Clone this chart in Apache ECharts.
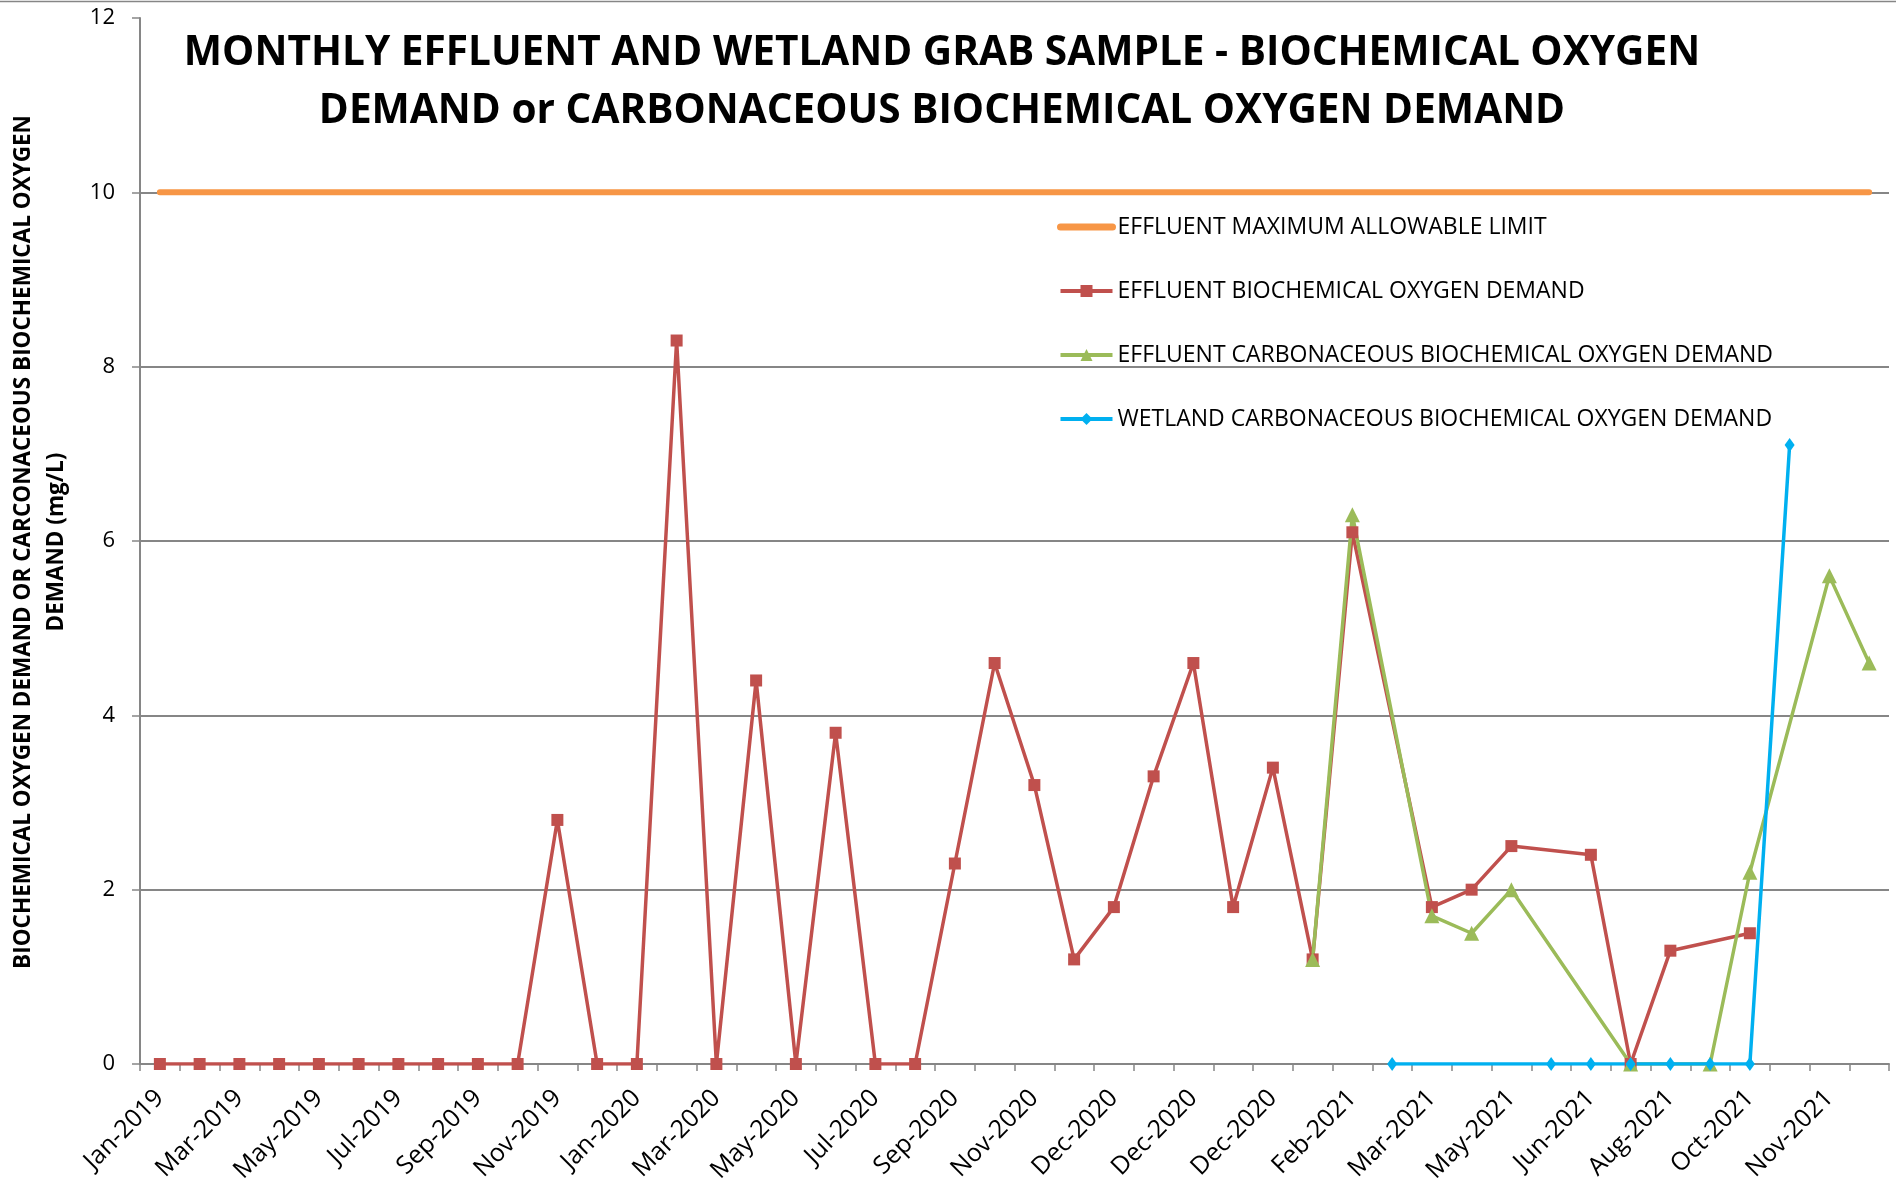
<!DOCTYPE html>
<html>
<head>
<meta charset="utf-8">
<script src="https://cdn.jsdelivr.net/npm/echarts@6/dist/echarts.min.js"></script>
<style>
html,body{margin:0;padding:0;background:#fff;}
#chart{width:1896px;height:1186px;}
</style>
</head>
<body>
<div id="chart"></div>
<script>
// ---- data ----
var categories = [
  'Jan-2019','Feb-2019','Mar-2019','Apr-2019','May-2019','Jun-2019','Jul-2019','Aug-2019',
  'Sep-2019','Oct-2019','Nov-2019','Dec-2019','Jan-2020','Feb-2020','Mar-2020','Apr-2020',
  'May-2020','Jun-2020','Jul-2020','Aug-2020','Sep-2020','Oct-2020','Nov-2020','Dec-2020',
  'Dec-2020','Dec-2020','Dec-2020','Dec-2020','Dec-2020','Jan-2021','Feb-2021','Mar-2021',
  'Mar-2021','Apr-2021','May-2021','Jun-2021','Jun-2021','Jul-2021','Aug-2021','Sep-2021',
  'Oct-2021','Nov-2021','Nov-2021','Dec-2021'
];
var limitValues = [10,10,10,10,10,10,10,10,10,10,10,10,10,10,10,10,10,10,10,10,10,10,
                   10,10,10,10,10,10,10,10,10,10,10,10,10,10,10,10,10,10,10,10,10,10];
var bodValues = [0,0,0,0,0,0,0,0,0,0,2.8,0,0,8.3,0,4.4,0,3.8,0,0,2.3,4.6,3.2,1.2,1.8,3.3,4.6,1.8,3.4,1.2,
                 6.1,null,1.8,2.0,2.5,null,2.4,0,1.3,null,1.5,null,null,null];
var cbodValues = [null,null,null,null,null,null,null,null,null,null,null,null,null,null,null,null,null,null,
                  null,null,null,null,null,null,null,null,null,null,null,1.2,
                  6.3,null,1.7,1.5,2.0,null,null,0,null,0,2.2,null,5.6,4.6];
var wetlandValues = [null,null,null,null,null,null,null,null,null,null,null,null,null,null,null,null,null,null,
                     null,null,null,null,null,null,null,null,null,null,null,null,
                     null,0,null,null,null,0,0,0,0,0,0,7.1,null,null];
var yTicks = {min: 0, max: 12, interval: 2};
var seriesNames = [
  'EFFLUENT MAXIMUM ALLOWABLE LIMIT',
  'EFFLUENT BIOCHEMICAL OXYGEN DEMAND',
  'EFFLUENT CARBONACEOUS BIOCHEMICAL OXYGEN DEMAND',
  'WETLAND CARBONACEOUS BIOCHEMICAL OXYGEN DEMAND'
];
var titleText = 'MONTHLY EFFLUENT AND WETLAND GRAB SAMPLE - BIOCHEMICAL OXYGEN\nDEMAND or CARBONACEOUS BIOCHEMICAL OXYGEN DEMAND';
var yTitle = 'BIOCHEMICAL OXYGEN DEMAND OR CARCONACEOUS BIOCHEMICAL OXYGEN\nDEMAND (mg/L)';

var FONT = '"Open Sans", "Noto Sans", sans-serif';
var GRID = '#868686';

var chart = echarts.init(document.getElementById('chart'));
chart.setOption({
  animation: false,
  backgroundColor: '#ffffff',
  textStyle: {fontFamily: FONT},
  title: {
    text: titleText,
    left: 942,
    top: 24,
    textAlign: 'center',
    padding: 0,
    textStyle: {fontFamily: FONT, fontWeight: 'bold', fontSize: 40.6, lineHeight: 58, color: '#000'}
  },
  legend: {
    orient: 'vertical',
    left: 1052,
    top: 208,
    itemWidth: 52,
    itemHeight: 15,
    itemGap: 36,
    textStyle: {fontFamily: FONT, fontSize: 23, lineHeight: 28, color: '#000'},
    data: [
      {name: seriesNames[0], itemStyle: {opacity: 0}, lineStyle: {width: 7}},
      {name: seriesNames[1], lineStyle: {width: 4}},
      {name: seriesNames[2], lineStyle: {width: 4}},
      {name: seriesNames[3], lineStyle: {width: 4}}
    ]
  },
  graphic: [
    {type: 'line', shape: {x1: 0, y1: 1.5, x2: 1896, y2: 1.5}, style: {stroke: GRID, lineWidth: 1.5}, silent: true},
    {type: 'text', x: 40, y: 542, rotation: Math.PI / 2,
     style: {text: yTitle, font: 'bold 22.5px ' + FONT, fill: '#000', textAlign: 'center', textVerticalAlign: 'middle', lineHeight: 33}}
  ],
  grid: {left: 140, right: 7, top: 18, bottom: 122, containLabel: false},
  xAxis: {
    type: 'category',
    data: categories,
    boundaryGap: true,
    axisLine: {lineStyle: {color: GRID, width: 2}},
    axisTick: {show: true, interval: 0, length: 7, lineStyle: {color: GRID, width: 1.5}},
    axisLabel: {interval: 1, rotate: 45, margin: 30, color: '#000', fontSize: 25, fontFamily: FONT},
    splitLine: {show: false}
  },
  yAxis: {
    type: 'value',
    min: yTicks.min,
    max: yTicks.max,
    interval: yTicks.interval,
    axisLine: {show: true, lineStyle: {color: GRID, width: 2}},
    axisTick: {show: true, length: 8, lineStyle: {color: GRID, width: 1.5}},
    axisLabel: {color: '#000', fontSize: 22, margin: 25, fontFamily: FONT},
    splitLine: {show: true, lineStyle: {color: [GRID, GRID, GRID, GRID, GRID, GRID, 'rgba(0,0,0,0)'], width: 2}}
  },
  series: [
    {
      name: seriesNames[0], type: 'line', data: limitValues,
      symbol: 'none', showSymbol: false,
      lineStyle: {color: '#F79646', width: 6, cap: 'round'},
      itemStyle: {color: '#F79646'}
    },
    {
      name: seriesNames[1], type: 'line', data: bodValues, connectNulls: true,
      symbol: 'rect', symbolSize: 12,
      lineStyle: {color: '#C0504D', width: 3.5},
      itemStyle: {color: '#C0504D'}
    },
    {
      name: seriesNames[2], type: 'line', data: cbodValues, connectNulls: true,
      symbol: 'triangle', symbolSize: 15,
      lineStyle: {color: '#9BBB59', width: 3.5},
      itemStyle: {color: '#9BBB59'}
    },
    {
      name: seriesNames[3], type: 'line', data: wetlandValues, connectNulls: true,
      symbol: 'diamond', symbolSize: [10, 14],
      lineStyle: {color: '#00B0F0', width: 3.5},
      itemStyle: {color: '#00B0F0'}
    }
  ]
});
</script>
</body>
</html>
